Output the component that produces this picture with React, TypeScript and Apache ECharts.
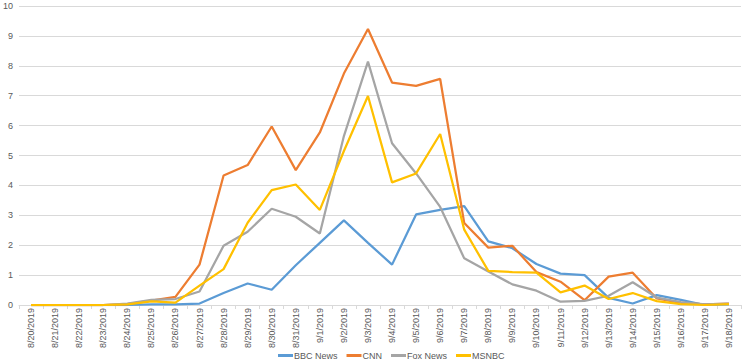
import React, { useEffect, useRef } from "react";
import * as echarts from "echarts";

const dates = [
  "8/20/2019", "8/21/2019", "8/22/2019", "8/23/2019", "8/24/2019", "8/25/2019",
  "8/26/2019", "8/27/2019", "8/28/2019", "8/29/2019", "8/30/2019", "8/31/2019",
  "9/1/2019", "9/2/2019", "9/3/2019", "9/4/2019", "9/5/2019", "9/6/2019",
  "9/7/2019", "9/8/2019", "9/9/2019", "9/10/2019", "9/11/2019", "9/12/2019",
  "9/13/2019", "9/14/2019", "9/15/2019", "9/16/2019", "9/17/2019", "9/18/2019",
];

const bbc = [0, 0, 0, 0, 0, 0.02, 0.02, 0.05, 0.4, 0.72, 0.51, 1.33, 2.08, 2.83, 2.08, 1.35, 3.03, 3.18, 3.31, 2.13, 1.9, 1.37, 1.05, 1.0, 0.24, 0.05, 0.33, 0.17, 0.0, 0.02];
const cnn = [0, 0, 0, 0, 0.03, 0.15, 0.27, 1.35, 4.33, 4.68, 5.97, 4.51, 5.77, 7.74, 9.23, 7.44, 7.33, 7.56, 2.74, 1.92, 1.98, 1.1, 0.78, 0.16, 0.95, 1.08, 0.22, 0.07, 0.02, 0.05];
const fox = [0, 0, 0, 0, 0.05, 0.17, 0.2, 0.45, 1.98, 2.45, 3.22, 2.95, 2.39, 5.65, 8.14, 5.41, 4.4, 3.28, 1.56, 1.12, 0.69, 0.48, 0.11, 0.14, 0.31, 0.76, 0.25, 0.1, 0.02, 0.05];
const msnbc = [0, 0, 0, 0, 0.02, 0.12, 0.08, 0.65, 1.2, 2.75, 3.84, 4.03, 3.18, 5.15, 6.99, 4.1, 4.4, 5.72, 2.52, 1.14, 1.1, 1.08, 0.42, 0.65, 0.2, 0.4, 0.13, 0.03, 0.0, 0.03];

const seriesDefs = [
  { name: "BBC News", data: bbc, color: "#5B9BD5" },
  { name: "CNN", data: cnn, color: "#ED7D31" },
  { name: "Fox News", data: fox, color: "#A5A5A5" },
  { name: "MSNBC", data: msnbc, color: "#FFC000" },
];

const narrow = "'Liberation Sans Narrow', 'Liberation Sans', Arial, sans-serif";

export default function App() {
  const ref = useRef<HTMLDivElement>(null);
  useEffect(() => {
    if (!ref.current) return;
    const chart = echarts.init(ref.current, undefined, { renderer: "svg" });
    chart.setOption({
      animation: false,
      backgroundColor: "#ffffff",
      grid: { left: 18, right: 8, top: 6, bottom: 58, containLabel: false },
      legend: {
        bottom: 3,
        left: 278,
        padding: 0,
        itemWidth: 15,
        itemHeight: 3,
        itemGap: 9,
        icon: "rect",
        textStyle: { fontSize: 9, color: "#595959", fontFamily: narrow, padding: [0, 0, 0, -4] },
        data: seriesDefs.map((s) => s.name),
      },
      xAxis: {
        type: "category",
        data: dates,
        boundaryGap: true,
        axisLine: { lineStyle: { color: "#d9d9d9" } },
        axisTick: { show: true, lineStyle: { color: "#d9d9d9" }, length: 4 },
        axisLabel: {
          rotate: 90,
          interval: 0,
          fontSize: 9,
          color: "#595959",
          margin: 3,
          fontFamily: narrow,
        },
      },
      yAxis: {
        type: "value",
        min: 0,
        max: 10,
        interval: 1,
        axisLine: { show: false },
        axisTick: { show: false },
        splitLine: { lineStyle: { color: "#d9d9d9", width: 1 } },
        axisLabel: {
          fontSize: 9,
          color: "#595959",
          margin: 6,
          fontFamily: "'Liberation Sans', Arial, sans-serif",
        },
      },
      series: seriesDefs.map((s) => ({
        name: s.name,
        type: "line",
        data: s.data,
        symbol: "none",
        lineStyle: { color: s.color, width: 2.25 },
        itemStyle: { color: s.color },
      })),
    });
    return () => chart.dispose();
  }, []);
  return <div ref={ref} style={{ width: 749, height: 363, position: "absolute", left: 0, top: 0 }} />;
}
